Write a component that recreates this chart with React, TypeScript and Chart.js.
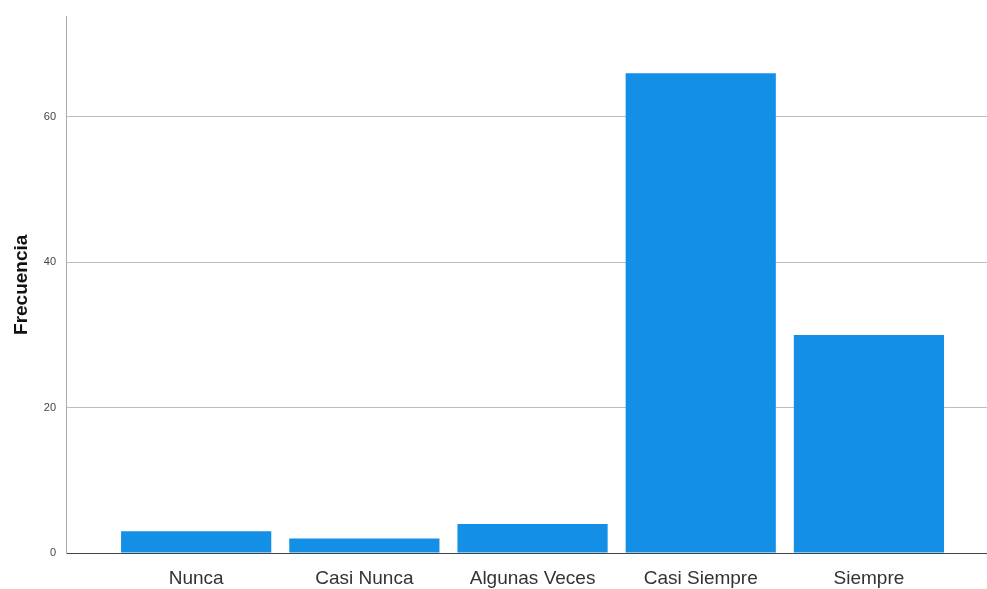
import React, { useEffect, useRef } from "react";
import { Chart, registerables } from "chart.js";

Chart.register(...registerables);

const categories = ["Nunca", "Casi Nunca", "Algunas Veces", "Casi Siempre", "Siempre"];
const frequencies = [3, 2, 4, 66, 30];
const yTicks = [0, 20, 40, 60];
const yMax = 73.8;
const yTitle = "Frecuencia";

export default function App() {
  const ref = useRef<HTMLCanvasElement | null>(null);

  useEffect(() => {
    document.body.style.margin = "0";
    const canvas = ref.current;
    if (!canvas) return;
    const chart = new Chart(canvas, {
      type: "bar",
      data: {
        datasets: [
          {
            label: yTitle,
            data: categories.map((c, i) => ({ x: i, y: frequencies[i] })),
            backgroundColor: "#1390E6",
            borderWidth: 0,
            categoryPercentage: 1,
            barPercentage: 0.893,
          },
        ],
      },
      options: {
        animation: false,
        responsive: false,
        devicePixelRatio: 1,
        layout: { padding: { top: 9, right: 0, left: 0, bottom: 0 } },
        plugins: { legend: { display: false }, tooltip: { enabled: false } },
        scales: {
          x: {
            type: "linear",
            offset: false,
            min: -0.774,
            max: 4.702,
            afterBuildTicks: (scale: any) => {
              scale.ticks = categories.map((_, i) => ({ value: i }));
            },
            afterFit: (scale: any) => {
              scale.height = 36;
            },
            grid: { display: false, drawTicks: false },
            border: { display: true, color: "#444", width: 1 },
            ticks: {
              autoSkip: false,
              maxRotation: 0,
              padding: 14,
              color: "#333",
              font: { family: "'Liberation Sans', Arial, sans-serif", size: 19 },
              callback: (v: any) => categories[Number(v)] ?? "",
            },
          },
          y: {
            min: 0,
            max: yMax,
            afterBuildTicks: (scale: any) => {
              scale.ticks = yTicks.map((v) => ({ value: v }));
            },
            afterFit: (scale: any) => {
              scale.width = 66;
            },
            grid: { color: "#BDBDBD", drawTicks: false, lineWidth: 1 },
            border: { display: true, color: "#AAAAAA", width: 1 },
            title: {
              display: true,
              text: yTitle,
              color: "#111",
              font: { family: "'Liberation Sans', Arial, sans-serif", size: 19, weight: "bold" },
              padding: { top: 10, bottom: 0 },
            },
            ticks: {
              padding: 10,
              color: "#444",
              font: { family: "'Liberation Sans', Arial, sans-serif", size: 11 },
            },
          },
        },
      },
    } as any);
    return () => chart.destroy();
  }, []);

  return <canvas ref={ref} width={987} height={589} style={{ display: "block" }} />;
}
